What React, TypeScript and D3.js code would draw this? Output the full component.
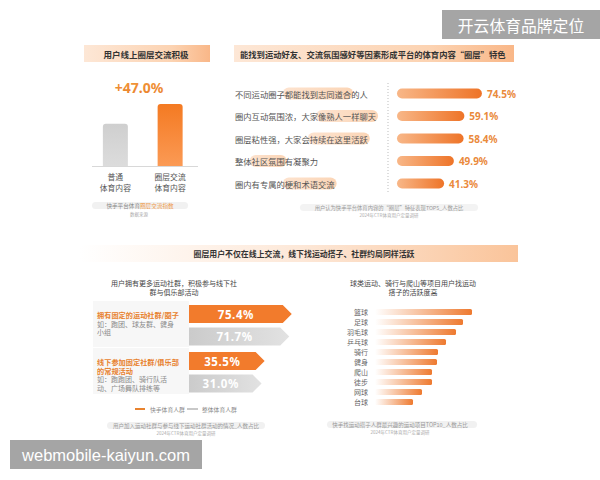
import React from 'react';
import * as d3 from 'd3';

const W = 600;
const H = 480;
const CJK = '"Noto Sans CJK SC", "Noto Sans", sans-serif';

// Panel 1: 用户线上圈层交流积极
const contentTypes = ['普通|体育内容', '圈层交流|体育内容'];
const exchangeIndex = [100, 147];
const liftLabel = '+47.0%';

// Panel 2: 圈层特色 TOP5
const traitLabels = [
  '不同运动圈子都能找到志同道合的人',
  '圈内互动氛围浓，大家像熟人一样聊天',
  '圈层粘性强，大家会持续在这里活跃',
  '整体社区氛围有凝聚力',
  '圈内有专属的梗和术语交流',
];
const traitHighlights = [[6, 14], [10, 17], [9, 16], [2, 6], [6, 12]];
const traitValues = [74.5, 59.1, 58.4, 49.9, 41.3];

// Panel 3: 运动社群
const groupTitles = [['拥有固定的运动社群/圈子'], ['线下参加固定社群/俱乐部', '的常规活动']];
const groupExamples = [['如：跑团、球友群、健身', '小组'], ['如：跑跑团、骑行队活', '动、广场舞队排练等']];
const kuaishouShare = [75.4, 35.5];
const overallShare = [71.7, 31.0];
const seriesNames = ['快手体育人群', '整体体育人群'];

// Panel 4: 找运动搭子 TOP10
const sports = ['篮球', '足球', '羽毛球', '乒乓球', '骑行', '健身', '爬山', '徒步', '网球', '台球'];
const sportActivity = [97, 88, 81, 71, 63, 62, 57, 57, 47, 38];

export default function App() {
  // panel 1 scales
  const x1 = d3.scalePoint<string>().domain(contentTypes).range([88, 197.5]).padding(0.5);
  const y1 = d3.scaleLinear().domain([0, 147]).range([166, 104]);
  const bw1 = 25;

  // panel 2 scales
  const x2 = d3.scaleLinear().domain([0, 100]).range([397, 511]);
  const y2 = d3.scaleBand<string>().domain(traitLabels).range([82.25, 194.75]);
  const fs2 = 8.3;

  // panel 3 scales
  const w3 = d3.scaleLinear().domain([0, 100]).range([51.5, 119.5]);
  const groupY = d3.scaleBand<number>().domain([0, 1]).range([305, 399]);
  const ax0 = 189;
  const ah = 18;
  const tip = 9;

  // panel 4 scales
  const x4 = d3.scaleLinear().domain([0, 100]).range([375, 475]);
  const y4 = d3.scaleBand<string>().domain(sports).range([307, 407]).paddingInner(0.4).paddingOuter(0.2);

  const arrow = (x0: number, y: number, w: number) =>
    `M${x0},${y}L${x0 + w - tip},${y}L${x0 + w},${y + ah / 2}L${x0 + w - tip},${y + ah}L${x0},${y + ah}Z`;

  return (
    <svg width={W} height={H} style={{ display: 'block', position: 'absolute', left: 0, top: 0 }} fontFamily={CJK}>
      <defs>
        <linearGradient id="titleG" x1="0" x2="1">
          <stop offset="0" stopColor="#fde7d6" />
          <stop offset="0.7" stopColor="#fcd3b2" />
          <stop offset="1" stopColor="#f9b788" />
        </linearGradient>
        <linearGradient id="bannerG" x1="0" x2="1">
          <stop offset="0" stopColor="#ffffff" />
          <stop offset="0.5" stopColor="#fde8d8" />
          <stop offset="1" stopColor="#fac49a" />
        </linearGradient>
        <linearGradient id="grayBar" x1="0" x2="0" y1="0" y2="1">
          <stop offset="0" stopColor="#cfcfcf" />
          <stop offset="1" stopColor="#dcdcdc" />
        </linearGradient>
        <linearGradient id="orangeBar" x1="0" x2="0" y1="0" y2="1">
          <stop offset="0" stopColor="#f47a22" />
          <stop offset="1" stopColor="#fb9a55" />
        </linearGradient>
        <linearGradient id="traitBar" x1="0" x2="1">
          <stop offset="0" stopColor="#f8b788" />
          <stop offset="1" stopColor="#ee7428" />
        </linearGradient>
        <linearGradient id="hlG" x1="0" x2="1">
          <stop offset="0" stopColor="#fde3cf" />
          <stop offset="1" stopColor="#fbd5b6" />
        </linearGradient>
        <linearGradient id="sportBar" x1="0" x2="1">
          <stop offset="0" stopColor="#ffffff" />
          <stop offset="1" stopColor="#ee7a30" />
        </linearGradient>
        <linearGradient id="grayArrow" x1="0" x2="1">
          <stop offset="0" stopColor="#cbcbcb" />
          <stop offset="1" stopColor="#e2e2e2" />
        </linearGradient>
        <linearGradient id="pctG" x1="0" x2="0" y1="0" y2="1">
          <stop offset="0" stopColor="#f39a3c" />
          <stop offset="1" stopColor="#e9802c" />
        </linearGradient>
      </defs>
      <rect width={W} height={H} fill="#ffffff" />

      {/* ===== Panel 1 ===== */}
      <rect x={84} y={45} width={126} height={17} fill="url(#titleG)" />
      <text x={146} y={53.5} textAnchor="middle" dominantBaseline="central" fontSize={8.5} fontWeight={700} fill="#333">
        用户线上圈层交流积极
      </text>
      <text x={139} y={87} textAnchor="middle" dominantBaseline="central" fontSize={14} fontWeight={700} fill="url(#pctG)" fontFamily='"Noto Sans", sans-serif'>
        {liftLabel}
      </text>
      {contentTypes.map((c, i) => {
        const cx = x1(c)!;
        const top = y1(exchangeIndex[i]);
        const h = y1(0) - top;
        return (
          <g key={c}>
            <path
              d={`M${cx - bw1 / 2},${top + h}V${top + 3}Q${cx - bw1 / 2},${top} ${cx - bw1 / 2 + 3},${top}H${cx + bw1 / 2 - 3}Q${cx + bw1 / 2},${top} ${cx + bw1 / 2},${top + 3}V${top + h}Z`}
              fill={i === 0 ? 'url(#grayBar)' : 'url(#orangeBar)'}
            />
            {c.split('|').map((t, j) => (
              <text key={j} x={cx} y={176.5 + j * 11} textAnchor="middle" dominantBaseline="central" fontSize={7.8} fill="#555">
                {t}
              </text>
            ))}
          </g>
        );
      })}
      <line x1={92} x2={198} y1={y1(0) + 0.5} y2={y1(0) + 0.5} stroke="#d8d8d8" strokeWidth={1} />
      <rect x={92} y={202} width={96} height={7} rx={3.5} fill="#f1f1f1" />
      <text x={140} y={205.5} textAnchor="middle" dominantBaseline="central" fontSize={5.6} fill="#888">
        快手平台体育<tspan fill="#ef9a4a">圈层交流指数</tspan>
      </text>
      <text x={139} y={213.5} textAnchor="middle" dominantBaseline="central" fontSize={4.5} fill="#aaa">
        数据来源
      </text>

      {/* ===== Panel 2 ===== */}
      <rect x={234} y={45} width={280} height={17} fill="url(#titleG)" />
      <text x={240} y={53.5} dominantBaseline="central" fontSize={8.3} fontWeight={700} fill="#333">
        能找到运动好友、交流氛围感好等因素形成平台的体育内容“圈层”特色
      </text>
      <line x1={388} x2={388} y1={83} y2={194} stroke="#bdbdbd" strokeWidth={1} strokeDasharray="1,2" />
      {traitLabels.map((t, i) => {
        const cy = y2(t)! + y2.bandwidth() / 2;
        const [s, e] = traitHighlights[i];
        const end = x2(traitValues[i]);
        return (
          <g key={t}>
            <rect x={235 + s * fs2 - 2} y={cy - 6} width={(e - s) * fs2 + 4} height={12} rx={6} fill="url(#hlG)" />
            <text x={235} y={cy} dominantBaseline="central" fontSize={fs2} fill="#555">
              {t}
            </text>
            <rect x={x2(0)} y={cy - 5} width={end - x2(0)} height={10} rx={5} fill="url(#traitBar)" />
            <text x={end + 5} y={cy} dominantBaseline="central" fontSize={10} fontWeight={700} fill="#ea8a3c" fontFamily='"Noto Sans", sans-serif'>
              {traitValues[i].toFixed(1)}%
            </text>
          </g>
        );
      })}
      <rect x={300} y={204} width={178} height={7} rx={3.5} fill="#f3f3f3" />
      <text x={389} y={207.5} textAnchor="middle" dominantBaseline="central" fontSize={5.3} fill="#999">
        用户认为快手平台体育内容的“圈层”特征表现TOP5_人数占比
      </text>
      <text x={389} y={214.5} textAnchor="middle" dominantBaseline="central" fontSize={4.5} fill="#aaa">
        2024年CTR体育用户定量调研
      </text>

      {/* ===== Banner ===== */}
      <rect x={80} y={245} width={438} height={17} fill="url(#bannerG)" />
      <text x={304} y={253.5} textAnchor="middle" dominantBaseline="central" fontSize={7.9} fontWeight={700} fill="#333">
        圈层用户不仅在线上交流，线下找运动搭子、社群约局同样活跃
      </text>

      {/* ===== Panel 3 ===== */}
      <text x={174} y={283} textAnchor="middle" dominantBaseline="central" fontSize={7} fill="#444">
        用户拥有更多运动社群，积极参与线下社
      </text>
      <text x={174} y={291.5} textAnchor="middle" dominantBaseline="central" fontSize={7} fill="#444">
        群与俱乐部活动
      </text>
      {[0, 1].map((g) => {
        const gy = groupY(g)!;
        const wk = w3(kuaishouShare[g]);
        const wo = w3(overallShare[g]);
        return (
          <g key={g}>
            <rect x={93} y={gy - 4} width={96} height={46} fill="#f7f7f7" />
            {groupTitles[g].map((t, j) => (
              <text key={'t' + j} x={97} y={gy + 10 + j * 8.5} dominantBaseline="central" fontSize={7.2} fontWeight={700} fill="#e8812e">
                {t}
              </text>
            ))}
            {groupExamples[g].map((t, j) => (
              <text key={'e' + j} x={97} y={gy + 10 + (groupTitles[g].length + j) * 8.5} dominantBaseline="central" fontSize={7} fill="#8a8a8a">
                {t}
              </text>
            ))}
            <path d={arrow(ax0, gy, wk)} fill="#f27b2c" />
            <text x={ax0 + (wk - tip) / 2} y={gy + ah / 2} textAnchor="middle" dominantBaseline="central" fontSize={11.5} fontWeight={700} fill="#fff" letterSpacing={0.6} fontFamily='"Noto Sans", sans-serif'>
              {kuaishouShare[g].toFixed(1)}%
            </text>
            <path d={arrow(ax0, gy + 22.5, wo)} fill="url(#grayArrow)" />
            <text x={ax0 + (wo - tip) / 2} y={gy + 22.5 + ah / 2} textAnchor="middle" dominantBaseline="central" fontSize={11.5} fontWeight={700} fill="#fff" letterSpacing={0.6} fontFamily='"Noto Sans", sans-serif'>
              {overallShare[g].toFixed(1)}%
            </text>
          </g>
        );
      })}
      <line x1={135} x2={145} y1={409} y2={409} stroke="#e8832f" strokeWidth={2} />
      <text x={150} y={409} dominantBaseline="central" fontSize={5.8} fill="#888">{seriesNames[0]}</text>
      <line x1={187} x2={198} y1={409} y2={409} stroke="#c8c8c8" strokeWidth={2} />
      <text x={202} y={409} dominantBaseline="central" fontSize={5.8} fill="#888">{seriesNames[1]}</text>
      <rect x={107} y={422} width={158} height={7} rx={3.5} fill="#f1f1f1" />
      <text x={186} y={425.5} textAnchor="middle" dominantBaseline="central" fontSize={5.5} fill="#999">
        用户加入运动社群与参与线下运动社群活动的情况_人数占比
      </text>
      <text x={186} y={433} textAnchor="middle" dominantBaseline="central" fontSize={4.5} fill="#aaa">
        2024年CTR体育用户定量调研
      </text>

      {/* ===== Panel 4 ===== */}
      <text x={413} y={283} textAnchor="middle" dominantBaseline="central" fontSize={7} fill="#444">
        球类运动、骑行与爬山等项目用户找运动
      </text>
      <text x={413} y={291.5} textAnchor="middle" dominantBaseline="central" fontSize={7} fill="#444">
        搭子的活跃度高
      </text>
      {sports.map((s, i) => {
        const y = y4(s)!;
        return (
          <g key={s}>
            <text x={368} y={y + y4.bandwidth() / 2} textAnchor="end" dominantBaseline="central" fontSize={7} fill="#666">
              {s}
            </text>
            <rect x={x4(0)} y={y} width={x4(sportActivity[i]) - x4(0)} height={y4.bandwidth()} rx={1.5} fill="url(#sportBar)" />
          </g>
        );
      })}
      <rect x={327} y={421} width={150} height={7} rx={3.5} fill="#f1f1f1" />
      <text x={400} y={424.5} textAnchor="middle" dominantBaseline="central" fontSize={5.5} fill="#999">
        快手找运动搭子人群最兴趣的运动项目TOP10_人数占比
      </text>
      <text x={400} y={432} textAnchor="middle" dominantBaseline="central" fontSize={4.5} fill="#aaa">
        2024年CTR体育用户定量调研
      </text>

      {/* ===== Watermarks ===== */}
      <rect x={442} y={10} width={158} height={29} fill="#a5a5a5" />
      <text x={521} y={25} textAnchor="middle" dominantBaseline="central" fontSize={15.8} fill="#fff">
        开云体育品牌定位
      </text>
      <rect x={10} y={440} width={192} height={29} fill="#a5a5a5" />
      <text x={106} y={455} textAnchor="middle" dominantBaseline="central" fontSize={16.5} fill="#fff" fontFamily='"Liberation Sans", Arial, sans-serif'>
        webmobile-kaiyun.com
      </text>
    </svg>
  );
}
